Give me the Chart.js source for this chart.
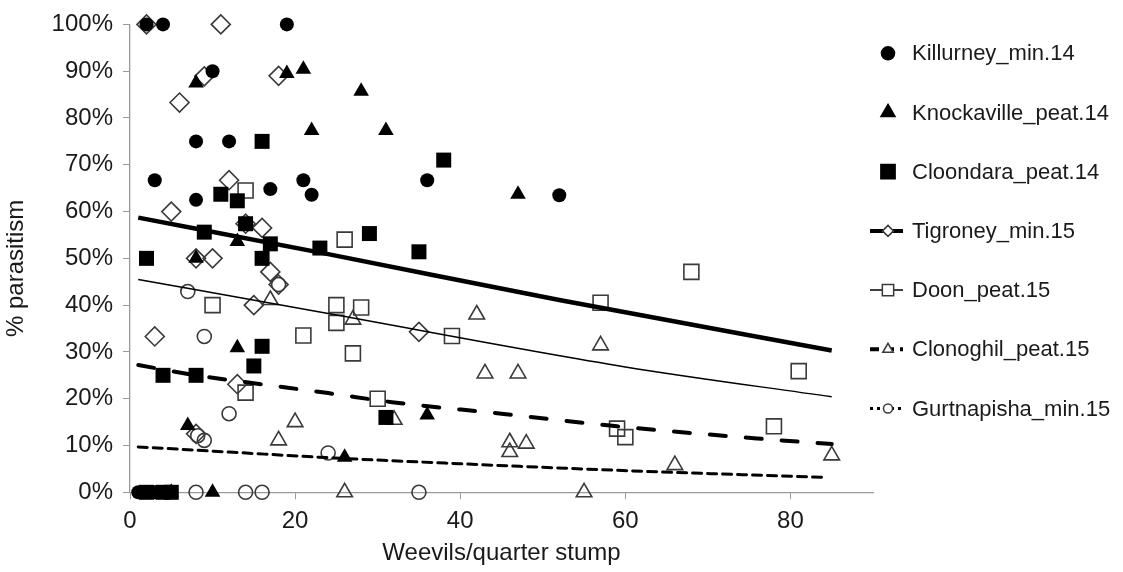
<!DOCTYPE html>
<html>
<head>
<meta charset="utf-8">
<script src="https://cdn.jsdelivr.net/npm/chart.js@4"></script>
<style>
  html, body { margin: 0; padding: 0; background: #fff; }
</style>
</head>
<body>
<canvas id="chart" width="1123" height="572"></canvas>
<script>
// values (x = weevils per quarter stump, y = % parasitism)
const killurneyX = [2, 4, 19, 10, 8, 12, 3, 17, 21, 22, 8, 36, 52, 1, 1.5, 3]
const killurneyY = [100, 100, 100, 90, 75, 75, 66.7, 64.8, 66.7, 63.6, 62.5, 66.7, 63.5, 0, 0, 0]

const knockavilleX = [8, 19, 21, 22, 28, 31, 47, 13, 8, 13, 7, 26, 36, 10, 5]
const knockavilleY = [87.5, 89.5, 90.4, 77.3, 85.7, 77.3, 63.7, 53.6, 50, 30.9, 14.3, 7.5, 16.5, 0, 0]

const cloondaraX = [16, 11, 13, 9, 14, 17, 23, 29, 35, 38, 2, 16, 16, 15, 4, 8, 31, 2, 4, 5]
const cloondaraY = [75, 63.7, 62.3, 55.6, 57.4, 53.1, 52.2, 55.3, 51.4, 71, 50, 50, 31.2, 27, 25, 25, 16, 0, 0, 0]

const tigroneyX = [2, 11, 9, 6, 18, 12, 5, 14, 16, 8, 10, 17, 18, 15, 3, 35, 13, 8]
const tigroneyY = [100, 100, 88.9, 83.3, 89, 66.7, 60, 57.4, 56.5, 50, 50, 47.1, 44.4, 40, 33.3, 34.3, 23.1, 12.5]

const doonX = [14, 26, 10, 25, 25, 28, 21, 27, 39, 14, 30, 57, 68, 81, 78, 59, 60]
const doonY = [64.5, 54, 40, 40, 36.2, 39.5, 33.5, 29.7, 33.4, 21.3, 20, 40.5, 47.1, 25.9, 14.1, 13.6, 11.8]

const clonoghilX = [17, 27, 42, 57, 43, 47, 20, 18, 32, 46, 48, 46, 66, 85, 26, 55]
const clonoghilY = [41.1, 36.9, 38, 31.4, 25.4, 25.4, 15, 11.1, 15.5, 10.7, 10.4, 8.6, 5.8, 7.9, 0, 0]

const gurtnapishaX = [18, 7, 9, 12, 8.2, 9, 24, 8, 14, 16, 35]
const gurtnapishaY = [44.4, 42.9, 33.3, 16.8, 12.1, 11.1, 8.4, 0, 0, 0, 0]

// trend lines
const tigroneyTrendX = [1, 24, 52, 85]
const tigroneyTrendY = [58.7, 50.9, 41.1, 30.3]
const doonTrendX = [1, 24, 60, 85]
const doonTrendY = [45.5, 38.2, 26.8, 20.4]
const clonoghilTrendX = [1, 8, 15, 24, 32, 45, 59, 76, 85]
const clonoghilTrendY = [27.2, 25.0, 23.3, 21.2, 19.2, 16.8, 14.1, 11.5, 10.3]
const gurtnapishaTrendX = [1, 12, 24, 40, 62, 84]
const gurtnapishaTrendY = [9.7, 8.6, 7.4, 6.1, 4.5, 3.2]

const seriesNames = ["Killurney_min.14", "Knockaville_peat.14", "Cloondara_peat.14",
    "Tigroney_min.15", "Doon_peat.15", "Clonoghil_peat.15", "Gurtnapisha_min.15"]

const xTicks = [0, 20, 40, 60, 80]
const yTicks = [0, 10, 20, 30, 40, 50, 60, 70, 80, 90, 100]

const pts = (xs, ys) => xs.map((x, i) => ({ x: x, y: ys[i] }))

const textColor = "#1a1a1a"
const axisColor = "#9a9a9a"
const openColor = "#3a3a3a"
const fontFamily = "'Liberation Sans', Arial, sans-serif"

function marker(label, xs, ys, style, radius, filled) {
    return {
        label: label,
        data: pts(xs, ys),
        pointStyle: style,
        pointRadius: radius,
        pointBackgroundColor: filled ? "#000" : "rgba(0,0,0,0)",
        pointBorderColor: filled ? "#000" : openColor,
        pointBorderWidth: filled ? 0 : 1.6,
        showLine: false,
        clip: false,
        order: 1
    }
}

function trend(xs, ys, width, dash) {
    return {
        type: "line",
        label: "trend",
        data: pts(xs, ys),
        borderColor: "#000",
        borderWidth: width,
        borderDash: dash,
        borderCapStyle: dash.length ? "round" : "butt",
        pointRadius: 0,
        cubicInterpolationMode: "monotone",
        fill: false,
        order: 0
    }
}

// legend entries: marker style and the trend line style that goes with it
const legendItems = [
    { style: "circle", r: 6.5, filled: true, line: null },
    { style: "triangle", r: 8, filled: true, line: null },
    { style: "rect", r: 10, filled: true, line: null },
    { style: "rectRot", r: 5.5, filled: false, line: { w: 4, dash: [] } },
    { style: "rect", r: 8, filled: false, line: { w: 1.5, dash: [] } },
    { style: "triangle", r: 6, filled: false, line: { w: 4, dash: [9, 6] } },
    { style: "circle", r: 4.5, filled: false, line: { w: 3, dash: [3, 4] } }
]

const legendPlugin = {
    id: "sideLegend",
    afterDraw(chart) {
        const ctx = chart.ctx
        ctx.save()
        legendItems.forEach((item, i) => {
            let y = 53.3 + i * 59.2
            let x = 888
            if (item.line) {
                ctx.beginPath()
                ctx.strokeStyle = "#000"
                ctx.lineWidth = item.line.w
                ctx.setLineDash(item.line.dash)
                ctx.moveTo(870, y)
                ctx.lineTo(903, y)
                ctx.stroke()
                ctx.setLineDash([])
            }
            ctx.fillStyle = item.filled ? "#000" : "#fff"
            ctx.strokeStyle = item.filled ? "#000" : openColor
            ctx.lineWidth = item.filled ? 0 : 1.5
            Chart.helpers.drawPoint(ctx, { pointStyle: item.style, radius: item.r, borderWidth: ctx.lineWidth }, x, y)
            ctx.fillStyle = textColor
            ctx.font = "22px " + fontFamily
            ctx.textBaseline = "middle"
            ctx.textAlign = "left"
            ctx.fillText(seriesNames[i], 912, y + 1)
        })
        ctx.restore()
    }
}

new Chart(document.getElementById("chart"), {
    type: "scatter",
    data: {
        datasets: [
            marker(seriesNames[0], killurneyX, killurneyY, "circle", 7, true),
            marker(seriesNames[1], knockavilleX, knockavilleY, "triangle", 9, true),
            marker(seriesNames[2], cloondaraX, cloondaraY, "rect", 10.6, true),
            marker(seriesNames[3], tigroneyX, tigroneyY, "rectRot", 9.5, false),
            marker(seriesNames[4], doonX, doonY, "rect", 10.6, false),
            marker(seriesNames[5], clonoghilX, clonoghilY, "triangle", 9, false),
            marker(seriesNames[6], gurtnapishaX, gurtnapishaY, "circle", 7, false),
            trend(tigroneyTrendX, tigroneyTrendY, 4.5, []),
            trend(doonTrendX, doonTrendY, 1.5, []),
            trend(clonoghilTrendX, clonoghilTrendY, 4, [16, 20]),
            trend(gurtnapishaTrendX, gurtnapishaTrendY, 3, [9, 6])
        ]
    },
    options: {
        responsive: false,
        animation: false,
        layout: { padding: { left: 0, right: 250, top: 20.7, bottom: 0 } },
        plugins: {
            legend: { display: false },
            tooltip: { enabled: false }
        },
        scales: {
            x: {
                type: "linear",
                min: 0,
                max: 90,
                afterBuildTicks: s => { s.ticks = xTicks.map(v => ({ value: v })) },
                afterFit: s => { s.height = 572 - 492.3 },
                ticks: {
                    padding: 8,
                    color: textColor,
                    font: { family: fontFamily, size: 24 }
                },
                grid: { drawOnChartArea: false, drawTicks: true, tickLength: 7, color: axisColor },
                border: { color: axisColor, width: 1.3 },
                title: {
                    display: true,
                    text: "Weevils/quarter stump",
                    color: textColor,
                    font: { family: fontFamily, size: 24 },
                    padding: { top: 0, bottom: 4 }
                }
            },
            y: {
                min: 0,
                max: 100,
                afterBuildTicks: s => { s.ticks = yTicks.map(v => ({ value: v })) },
                afterFit: s => { s.width = 130 },
                ticks: {
                    padding: 10,
                    color: textColor,
                    font: { family: fontFamily, size: 24 },
                    callback: v => v + "%"
                },
                grid: { drawOnChartArea: false, drawTicks: true, tickLength: 7, color: axisColor },
                border: { color: axisColor, width: 1.3 },
                title: {
                    display: true,
                    // trailing spaces nudge the rotated title a little lower, as in the reference
                    text: "% parasitism   ",
                    color: textColor,
                    font: { family: fontFamily, size: 24 },
                    padding: { top: 2, bottom: 0 }
                }
            }
        }
    },
    plugins: [legendPlugin]
})
</script>
</body>
</html>
